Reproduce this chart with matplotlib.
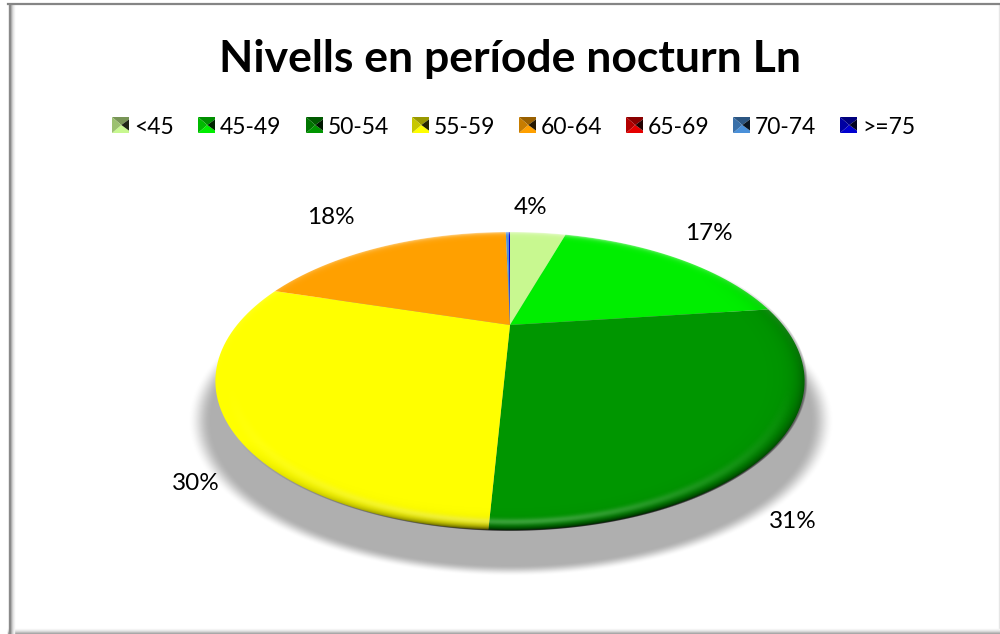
import numpy as np
import matplotlib
matplotlib.use('Agg')
import matplotlib.pyplot as plt
from matplotlib.path import Path
from matplotlib.patches import Polygon
from matplotlib.transforms import Affine2D

plt.rcParams['font.family'] = ['Lato', 'DejaVu Sans']

title = 'Nivells en període nocturn Ln'
categories = ['<45', '45-49', '50-54', '55-59', '60-64', '65-69', '70-74', '>=75']
values = [4.0, 17.45, 30.55, 29.8, 17.9, 0.0, 0.2, 0.1]
colors = ['#c8f890', '#00ee00', '#009600', '#ffff00', '#ffa000', '#e60000', '#4a90d9', '#0000d0']
labels = ['4%', '17%', '31%', '30%', '18%', '', '', '']

label_pos = [(531, 207), (709, 234), (793, 521), (196, 483), (331, 218)]
legend_x = [112, 198, 306, 412, 519, 626, 733, 840]

# tilted disc: apex is above the centre of the ellipse
APEX_X, APEX_Y = 510, 325
TILT, SX, SY = 0.376, 273, 128
WARP = np.radians(7)
WARP2 = np.radians(3.5)


def tilt(xy):
    r = np.hypot(xy[:, 0], xy[:, 1])
    th = np.arctan2(xy[:, 0], xy[:, 1])
    th = th + WARP * np.sin(th) - WARP2 * (1 - np.cos(th)) / 2
    u, v = r * np.sin(th), r * np.cos(th)
    den = 1 + TILT * v
    return np.column_stack([APEX_X + SX * u / den, APEX_Y - SY * v / den])


def smooth(a, lo, hi):
    t = np.clip((a - lo) / (hi - lo), 0, 1)
    return t * t * (3 - 2 * t)


def shade(c, f):
    return np.array(matplotlib.colors.to_rgb(c)) * f


fig = plt.figure(figsize=(10, 6.34), dpi=100)
ax = fig.add_axes([0, 0, 1, 1])

wedges, _ = ax.pie(values, colors=colors, startangle=90, counterclock=False, frame=False)
for w in wedges:
    # scale up so the arc is flattened finely
    poly = w.get_path().to_polygons(Affine2D().scale(1000), closed_only=True)[0] / 1000
    w._path = Path(tilt(poly))
    w.set_zorder(3)
    w.set_linewidth(0)

ax.set_aspect('auto')
ax.axis('off')

yy, xx = np.mgrid[0:634, 0:1000] + 0.5

# drop shadow
d = np.hypot((xx - 511) / 312, (yy - 421) / 150)
img = np.zeros((634, 1000, 4))
img[..., :3] = 0.69
img[..., 3] = 1 - smooth(d, 0.96, 1.035)
ax.imshow(img, extent=(0, 1000, 634, 0), zorder=1, aspect='auto', interpolation='bilinear')

# bevel on the rim of the disc
d = np.hypot((xx - 510) / 295, (yy - 381) / 149)
ang = np.arctan2(yy - 381, xx - 510)
low = np.clip(np.sin(ang) * 0.9 + 0.35 * np.cos(ang) + 0.15, 0, 1)
dark = np.exp((d - 1) / 0.028) * low * 0.75
img = np.zeros((634, 1000, 4))
img[..., 3] = np.clip(dark, 0, 1) * (1 - smooth(d, 1.0, 1.01))
ax.imshow(img, extent=(0, 1000, 634, 0), zorder=4, aspect='auto', interpolation='bilinear')

glow = np.exp(-((d - 0.945) / 0.022) ** 2) * np.clip(np.sin(ang), 0, 1) * 0.22
top = np.exp((d - 1) / 0.012) * np.clip(-np.sin(ang), 0, 1) * 0.6
img = np.ones((634, 1000, 4))
img[..., 3] = np.clip(glow + top, 0, 1) * (1 - smooth(d, 1.0, 1.01))
ax.imshow(img, extent=(0, 1000, 634, 0), zorder=5, aspect='auto', interpolation='bilinear')

ax.set_xlim(0, 1000)
ax.set_ylim(634, 0)

ax.text(510, 59, title, ha='center', va='center', fontsize=32, fontweight='bold', color='black', zorder=6)

for (x, y), s in zip(label_pos, labels):
    ax.text(x, y, s, ha='center', va='center', fontsize=17.5, color='black', zorder=6)

# legend swatches are little pyramids with a dark notch on the right
for x0, name, c in zip(legend_x, categories, colors):
    y0, w, h = 117, 17, 16
    x1, y1 = x0 + w, y0 + h
    cx, cy = x0 + w * 0.55, y0 + h * 0.5
    ym0, ym1 = y0 + h * 0.15, y1 - h * 0.15
    ax.add_patch(Polygon([(x0, y0), (x1, y0), (x1, ym0), (cx, cy)], color=shade(c, 0.6), lw=0, zorder=6))
    ax.add_patch(Polygon([(x0, y1), (x1, y1), (x1, ym1), (cx, cy)], color=shade(c, 1.0), lw=0, zorder=6))
    ax.add_patch(Polygon([(x0, y0), (x0, y1), (cx, cy)], color=shade(c, 0.78), lw=0, zorder=6))
    ax.add_patch(Polygon([(x1, ym0), (x1, ym1), (cx, cy)], color=shade(c, 0.15), lw=0, zorder=6))
    ax.text(x1 + 5, 127, name, ha='left', va='center', fontsize=16.5, color='black', zorder=6)

# chart frame, soft on the inner side
ax.plot([8, 1000], [4, 4], color='#858585', lw=1.6, zorder=7)
for i, c in enumerate(['#8a8a8a', '#8a8a8a', '#b8b8b8', '#d4d4d4', '#e8e8e8', '#f4f4f4']):
    ax.plot([8 + i + 0.5] * 2, [4, 634], color=c, lw=1, zorder=7 - i * 0.01)
for i, c in enumerate(['#a8a8a8', '#c4c4c4', '#dcdcdc', '#ececec', '#f6f6f6']):
    ax.plot([8, 1000], [632.5 - i] * 2, color=c, lw=1, zorder=6.9 - i * 0.01)
ax.plot([998.5] * 2, [4, 634], color='#e6e6e6', lw=1, zorder=6.8)

fig.savefig('out.png', dpi=100)
